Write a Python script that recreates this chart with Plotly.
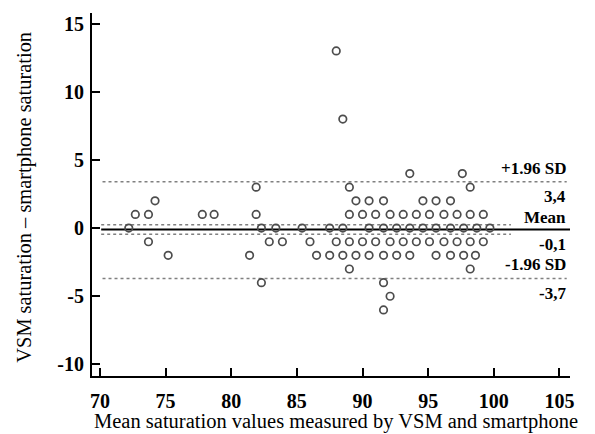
import plotly.graph_objects as go

# ---- data ----
mean_x = [72.2, 72.7, 73.7, 73.7, 74.2, 75.2, 77.8, 78.7,
          81.4, 81.9, 81.9, 82.3, 82.3, 82.9, 83.4, 83.9,
          85.4, 86.0, 86.5, 87.5, 87.5, 88.0, 88.0, 88.5, 88.5, 88.5,
          93.6, 97.6,
          89.0, 98.2,
          89.5, 90.5, 91.6, 94.6, 95.6, 96.7,
          89.0, 90.0, 91.0, 92.1, 93.1, 94.1, 95.1, 96.2, 97.2, 98.2, 99.2,
          90.5, 91.6, 92.6, 93.6, 94.6, 95.6, 96.7, 97.7, 98.7, 99.7,
          89.0, 90.0, 91.0, 92.1, 93.1, 94.1, 95.1, 96.2, 97.2, 98.2, 99.2,
          89.5, 90.5, 91.6, 92.6, 93.6, 95.6, 96.7, 97.7, 98.6,
          89.0, 98.2,
          91.6, 92.1, 91.6]
diff_y = [0, 1, 1, -1, 2, -2, 1, 1,
          -2, 3, 1, 0, -4, -1, 0, -1,
          0, -1, -2, 0, -2, -1, 13, 8, 0, -2,
          4, 4,
          3, 3,
          2, 2, 2, 2, 2, 2,
          1, 1, 1, 1, 1, 1, 1, 1, 1, 1, 1,
          0, 0, 0, 0, 0, 0, 0, 0, 0, 0,
          -1, -1, -1, -1, -1, -1, -1, -1, -1, -1, -1,
          -2, -2, -2, -2, -2, -2, -2, -2, -2,
          -3, -3,
          -4, -5, -6]

mean_diff = -0.1
upper_loa = 3.4
lower_loa = -3.7
ci_mean = [0.25, -0.45]

x_ticks = [70, 75, 80, 85, 90, 95, 100, 105]
y_ticks = [-10, -5, 0, 5, 10, 15]
y_tick_text = ["-10", "-5", "0", "5", "10", "15"]

serif = "Liberation Serif"

fig = go.Figure()
fig.add_trace(go.Scatter(
    x=mean_x, y=diff_y, mode="markers",
    marker=dict(symbol="circle-open", size=7.5, color="#4d4d4d",
                line=dict(width=1.7, color="#4d4d4d")),
    hoverinfo="skip", showlegend=False))

shapes = []
for v in ci_mean:
    shapes.append(dict(type="line", xref="x", yref="y", x0=70.1, x1=101.3, y0=v, y1=v,
                       line=dict(color="#808080", width=1.6, dash="dot"), layer="below"))
for v in [upper_loa, lower_loa]:
    shapes.append(dict(type="line", xref="x", yref="y", x0=70.2, x1=105.55, y0=v, y1=v,
                       line=dict(color="#808080", width=1.6, dash="dot"), layer="below"))
shapes.append(dict(type="line", xref="x", yref="y", x0=70.1, x1=105.8, y0=mean_diff, y1=mean_diff,
                   line=dict(color="black", width=2), layer="below"))

lab_font = dict(family=serif, size=17, color="black")
annotations = []
def lab(text, yv, shift):
    annotations.append(dict(text="<b>%s</b>" % text, xref="x", yref="y", x=105.55, y=yv,
                            xanchor="right", yanchor="middle", yshift=shift, borderpad=0,
                            showarrow=False, font=lab_font))
lab("+1.96 SD", upper_loa, 13.5)
lab(str(upper_loa).replace(".", ","), upper_loa, -14.5)
lab("Mean", mean_diff, 12.0)
lab(str(mean_diff).replace(".", ","), mean_diff, -15.0)
lab("-1.96 SD", lower_loa, 14.0)
lab(str(lower_loa).replace(".", ","), lower_loa, -15.0)

annotations.append(dict(text="Mean saturation values measured by VSM and smartphone",
                        xref="paper", yref="paper", x=0.51, y=-0.126,
                        xanchor="center", yanchor="middle", showarrow=False,
                        font=dict(family=serif, size=20.5, color="black")))
annotations.append(dict(text="VSM saturation \u2013 smartphone saturation",
                        xref="paper", yref="paper", x=-0.143, y=0.493, textangle=-90,
                        xanchor="center", yanchor="middle", showarrow=False,
                        font=dict(family=serif, size=20.4, color="black")))

# the page body adds an 8px offset, so the figure is drawn 8px smaller
fig.update_layout(
    width=587, height=426,
    margin=dict(l=84, r=25, t=5, b=58, autoexpand=False),
    paper_bgcolor="white", plot_bgcolor="white",
    shapes=shapes, annotations=annotations,
    xaxis=dict(range=[69.4, 105.8], tickvals=x_ticks, ticks="inside", ticklen=8, tickwidth=2,
               tickcolor="black", showline=True, linewidth=2, linecolor="black",
               showgrid=False, zeroline=False, ticklabelstandoff=6, automargin=False,
               tickfont=dict(family=serif, size=20, color="black", weight="bold")),
    yaxis=dict(range=[-10.85, 15.78], tickvals=y_ticks, ticktext=y_tick_text,
               ticks="inside", ticklen=8, tickwidth=2, automargin=False,
               tickcolor="black", showline=True, linewidth=2, linecolor="black",
               showgrid=False, zeroline=False, ticklabelstandoff=2,
               tickfont=dict(family=serif, size=20, color="black", weight="bold")),
)

fig.write_html("out.html")
